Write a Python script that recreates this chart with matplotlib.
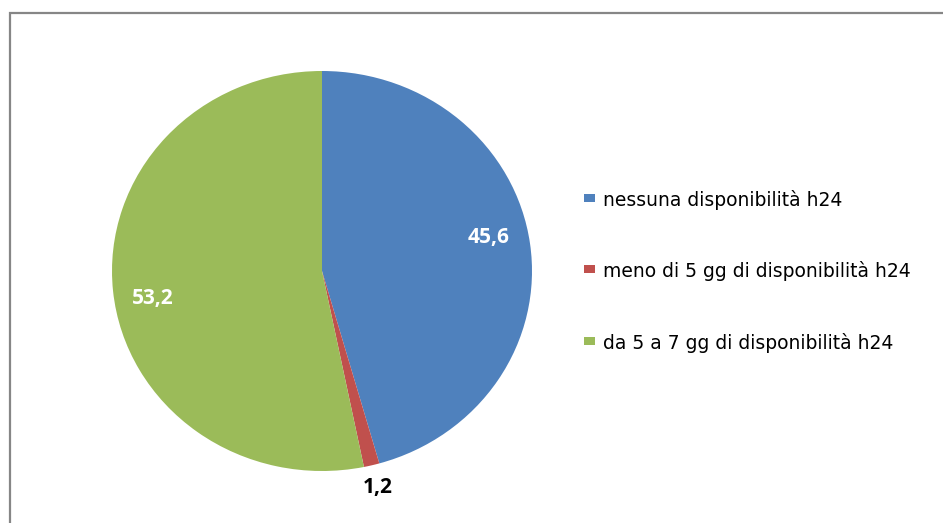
import numpy as np
import matplotlib
matplotlib.use("Agg")
import matplotlib.pyplot as plt
from matplotlib.patches import Rectangle

categories = ["nessuna disponibilità h24",
              "meno di 5 gg di disponibilità h24",
              "da 5 a 7 gg di disponibilità h24"]
values = [45.6, 1.2, 53.2]
value_labels = ["45,6", "1,2", "53,2"]
colors = ["#4F81BD", "#C0504D", "#9BBB59"]

W, H = 943, 523
plt.rcParams['font.family'] = ['Open Sans', 'DejaVu Sans']
fig = plt.figure(figsize=(W / 100, H / 100), dpi=100)

# outer chart border
fig.patches.append(Rectangle((9.5 / W, -0.05), 1.1, (H - 12.5) / H + 0.05,
                             transform=fig.transFigure, fill=False,
                             edgecolor="#868686", linewidth=1.6))

cx, cy, rx, ry = 322, 271, 210, 200
ax = fig.add_axes([(cx - rx) / W, (H - cy - ry) / H, 2 * rx / W, 2 * ry / H])
wedges, _ = ax.pie(values, colors=colors, startangle=90, counterclock=False,
                   radius=1.0, wedgeprops=dict(linewidth=0))
ax.set_aspect('auto')
ax.set_xlim(-1, 1)
ax.set_ylim(-1, 1)
ax.axis('off')

dists = [0.81, 1.115, 0.82]
ang_off = [4.0, 0.0, 4.0]
tcolors = ["white", "black", "white"]
total = sum(values)
start = 90.0
for v, lab, d, off, tc in zip(values, value_labels, dists, ang_off, tcolors):
    mid = np.deg2rad(start - v / total * 360 / 2 + off)
    start -= v / total * 360
    ax.text(d * np.cos(mid), d * np.sin(mid), lab, ha="center", va="center",
            fontsize=15, fontweight="bold", color=tc, clip_on=False)

# legend
leg_y = [198, 269, 341]
for c, lab, y in zip(colors, categories, leg_y):
    fig.patches.append(Rectangle((584 / W, (H - y - 4) / H), 11 / W, 8.5 / H,
                                 transform=fig.transFigure, facecolor=c,
                                 edgecolor="none"))
    fig.text(603 / W, (H - y) / H, lab, ha="left", va="center_baseline",
             fontsize=13.5, color="#000000", family=['DejaVu Sans'])

fig.savefig("out.png", dpi=100)
